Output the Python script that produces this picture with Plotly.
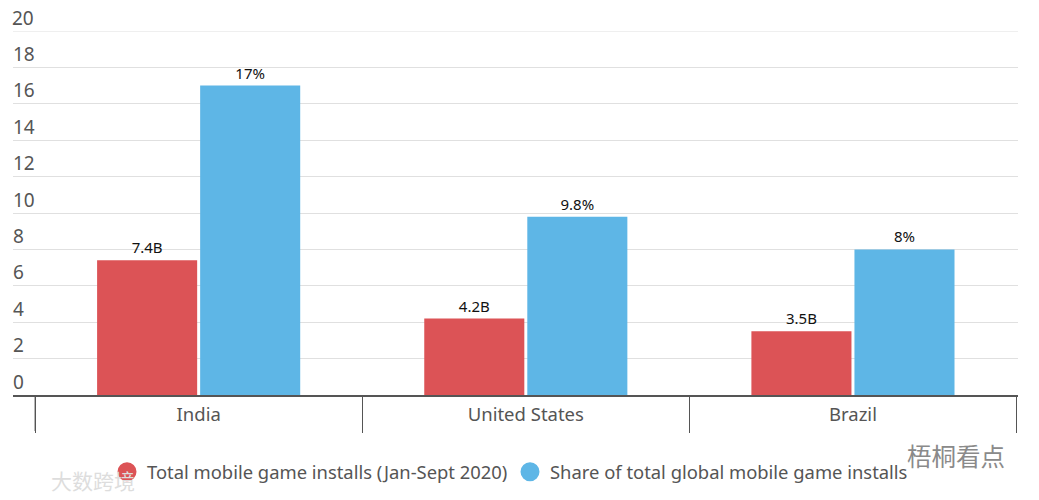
import plotly.graph_objects as go

categories = ["India", "United States", "Brazil"]
installs = [7.4, 4.2, 3.5]
shares = [17, 9.8, 8]
install_labels = ["7.4B", "4.2B", "3.5B"]
share_labels = ["17%", "9.8%", "8%"]
y_ticks = [0, 2, 4, 6, 8, 10, 12, 14, 16, 18, 20]
name_a = "Total mobile game installs (Jan-Sept 2020)"
name_b = "Share of total global mobile game installs"
RED = "#DC5356"
BLUE = "#5EB6E6"
FONT = "Noto Sans, Open Sans, sans-serif"

fig = go.Figure()
for vals, labels, color in [(installs, install_labels, RED), (shares, share_labels, BLUE)]:
    fig.add_bar(x=categories, y=vals, text=labels, textposition="outside", cliponaxis=False,
                marker=dict(color=color, line_width=0), showlegend=False,
                textfont=dict(size=15, color="#111111", family=FONT), textangle=0)
for name, color in [(name_a, RED), (name_b, BLUE)]:
    fig.add_scatter(x=[None], y=[None], mode="markers", name=name,
                    marker=dict(symbol="circle", size=14, color=color, line=dict(width=5, color=color)))

fig.update_layout(
    width=1039, height=500,
    margin=dict(l=13, r=21, t=31, b=105, autoexpand=False),
    paper_bgcolor="white", plot_bgcolor="white",
    barmode="group", bargap=0.37, bargroupgap=0.029,
    font=dict(family=FONT, size=18, color="#555555"),
    legend=dict(orientation="h", x=(510 - 13) / 1005, xanchor="center", y=-0.16, yanchor="top",
                font=dict(size=18.4, color="#555555"), itemsizing="trace",
                entrywidth=358, entrywidthmode="pixels"),
    xaxis=dict(type="category", range=[-0.5675, 2.5045], tickson="boundaries", ticks="outside",
               ticklen=36, tickwidth=1, tickcolor="#555555", showline=True, linecolor="#555555",
               linewidth=2, showgrid=False, ticklabelstandoff=2, tickfont=dict(size=18.5, color="#555555")),
    yaxis=dict(range=[0, 20], tickvals=y_ticks, ticktext=[str(v) for v in y_ticks],
               ticklabelposition="inside", ticklabelshift=-13, ticklabelstandoff=-3,
               showgrid=True, gridcolor="#E0E0E0",
               gridwidth=1, zeroline=False, showline=False, ticks="",
               tickfont=dict(size=19, color="#555555")),
    shapes=[
        dict(type="line", xref="x", yref="paper", x0=-0.5, x1=-0.5, y0=0, y1=-36 / 364,
             line=dict(color="#555555", width=1)),
        dict(type="line", xref="paper", yref="y", x0=0, x1=1, y0=y_ticks[-1], y1=y_ticks[-1],
             line=dict(color="#E0E0E0", width=1)),
    ],
    annotations=[
        dict(text=str(y_ticks[-1]), xref="paper", yref="y", x=0, y=y_ticks[-1], yshift=13,
             xanchor="left", yanchor="middle", xshift=-3, showarrow=False,
             font=dict(size=19, color="#555555")),
        dict(text="梧桐看点", xref="paper", yref="paper", x=(956 - 13) / 1005, y=1 - (455 - 31) / 364,
             xanchor="center", yanchor="middle",
             showarrow=False, font=dict(size=24.5, color="#8A8A8A", family="Noto Sans CJK SC")),
        dict(text="大数跨境", xref="paper", yref="paper", x=(93 - 13) / 1005, y=1 - (480 - 31) / 364,
             xanchor="center", yanchor="middle",
             showarrow=False, font=dict(size=21, color="#DDDDDD", family="Noto Sans CJK SC")),
    ],
)
fig.write_html("out.html", post_script="document.body.style.margin='0';",
               config=dict(displayModeBar=False))
